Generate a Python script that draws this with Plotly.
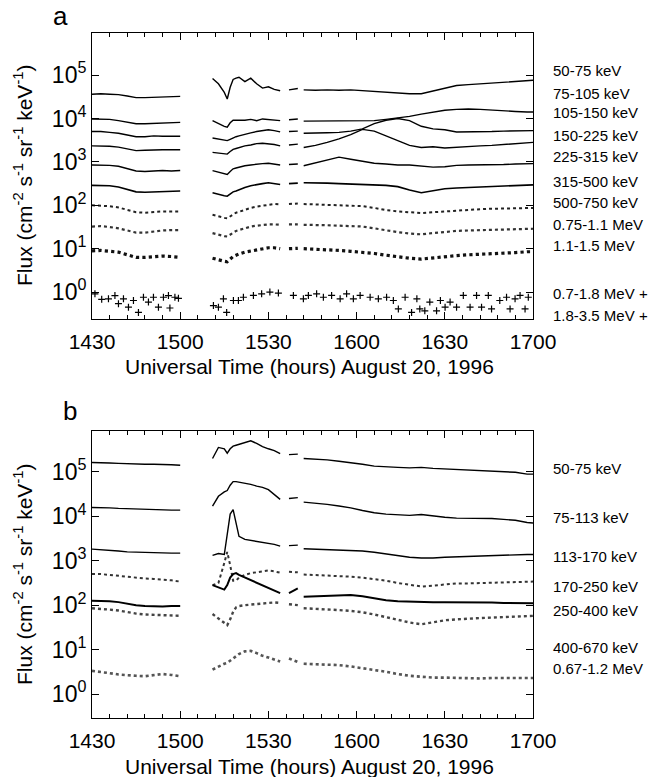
import plotly.graph_objects as go

# ---------------- data (time = minutes after 14:30 UT, None = data gap) ----------------
TIME = [0, 3, 6, 9, 12, 15, 18, 21, 24, 27, 30, None,
        41, 43, 45, 46, 47, 48, 49, 50, 52, 54, 56, 58, 60, 62, 64, None,
        67, 70, None,
        72, 76, 80, 84, 88, 92, 96, 100, 104, 108, 112, 116, 120, 124, 128, 132, 136, 140, 144, 148, 150]

TICK_VALS = [0, 30, 60, 90, 120, 150]
TICK_TEXT = ["1430", "1500", "1530", "1600", "1630", "1700"]

# Panel a (flux, cm^-2 s^-1 sr^-1 keV^-1)
A_50_75 = [36300, 37200, 36300, 35500, 33100, 30200, 30200, 30900, 31600, 32400, 32400, None,
           83200, 63100, 39800, 28200, 52500, 79400, 85100, 89100, 70800, 85100, 63100, 50100, 53700, 46800, 43700, None,
           45700, 49000, None,
           45700, 44700, 45700, 44700, 45700, 43700, 42700, 40700, 38900, 37200, 37200, 42700, 50100, 57500, 60300, 63100, 66100, 69200, 72400, 74100, 75900]
A_75_105 = [9770, 9770, 9550, 8910, 8130, 7590, 7590, 7760, 7940, 7940, 8130, None,
            8910, 7590, 6610, 6310, 7940, 9120, 9120, 9330, 9120, 9550, 8910, 9770, 9550, 9120, 8910, None,
            9330, 9770, None,
            8710, 8710, 8710, 8910, 8710, 8710, 8910, 9550, 10200, 11200, 12600, 14100, 15500, 16200, 16600, 16200, 15500, 14800, 14500, 14100, 14100]
A_105_150 = [5010, 5010, 4790, 4570, 4170, 3800, 3800, 3980, 3890, 3890, 3890, None,
             3550, 3390, 3160, 3090, 3310, 3630, 3800, 3980, 4370, 4680, 5010, 5250, 5500, 5250, 4900, None,
             5010, 5130, None,
             4570, 4570, 4680, 4790, 5130, 5750, 7590, 9120, 10000, 8910, 6610, 5750, 5500, 4900, 4900, 5010, 5010, 5130, 5130, 5250, 5250]
A_150_225 = [2340, 2340, 2290, 2190, 2000, 1820, 1860, 1910, 1910, 1910, 1910, None,
             1660, 1620, 1550, 1510, 1740, 1950, 2040, 2140, 2340, 2450, 2630, 2690, 2630, 2510, 2340, None,
             2450, 2570, None,
             2140, 2400, 2820, 3390, 4270, 5620, 5130, 3980, 3020, 2400, 2140, 2240, 2090, 2190, 2240, 2340, 2400, 2510, 2630, 2750, 2820]
A_225_315 = [851, 851, 832, 794, 692, 617, 603, 617, 631, 617, 631, None,
             631, 589, 537, 513, 603, 692, 724, 759, 813, 851, 891, 912, 933, 891, 851, None,
             871, 891, None,
             813, 955, 1120, 1290, 1150, 1020, 933, 891, 851, 851, 813, 759, 776, 832, 851, 851, 871, 871, 891, 891, 912]
A_315_500 = [288, 288, 282, 263, 234, 204, 200, 204, 209, 209, 214, None,
             195, 178, 166, 162, 182, 204, 214, 229, 257, 282, 302, 316, 331, 316, 302, None,
             316, 324, None,
             331, 331, 324, 316, 309, 302, 295, 288, 269, 224, 195, 219, 240, 251, 257, 269, 275, 282, 288, 295, 295]
A_500_750 = [100, 97.7, 95.5, 89.1, 79.4, 69.2, 67.6, 70.8, 72.4, 72.4, 72.4, None,
             60.3, 55.0, 51.3, 50.1, 56.2, 63.1, 67.6, 70.8, 79.4, 87.1, 93.3, 97.7, 105, 107, 105, None,
             107, 110, None,
             107, 105, 105, 102, 97.7, 95.5, 87.1, 77.6, 72.4, 69.2, 66.1, 69.2, 72.4, 75.9, 79.4, 81.3, 83.2, 85.1, 85.1, 87.1, 87.1]
A_075_11 = [32.4, 33.1, 31.6, 29.5, 26.3, 23.4, 23.4, 25.1, 26.3, 26.9, 26.9, None,
            22.9, 20.9, 19.5, 19.1, 21.4, 24.0, 25.7, 26.9, 29.5, 32.4, 33.9, 35.5, 36.3, 36.3, 35.5, None,
            36.3, 36.3, None,
            35.5, 35.5, 34.7, 33.9, 33.1, 32.4, 29.5, 26.3, 24.0, 22.4, 21.4, 22.9, 24.5, 25.7, 26.3, 26.9, 27.5, 28.2, 28.2, 28.8, 28.8]
A_11_15 = [8.91, 9.12, 8.71, 8.32, 7.24, 6.31, 6.31, 6.61, 6.76, 6.61, 6.31, None,
           6.03, 5.50, 5.13, 5.01, 5.75, 6.61, 7.08, 7.59, 8.32, 8.91, 9.55, 10.0, 10.5, 10.5, 10.0, None,
           10.0, 10.2, None,
           10.0, 9.77, 9.55, 9.12, 8.71, 8.32, 7.76, 7.08, 6.46, 6.03, 5.75, 6.17, 6.61, 6.92, 7.24, 7.41, 7.59, 7.94, 8.13, 8.51, 8.51]

# Panel a "+" channels (sparse points)
P07_18_T = [1.0, 3.3, 5.6, 7.8, 10.7, 14.1, 17.5, 19.2, 20.9, 24.3, 26.0, 28.2, 29.4,
            44.7, 48.1, 49.8, 51.5, 54.9, 57.7, 60.5, 63.4, 68.5,
            71.9, 73.6, 76.4, 78.7, 81.5, 84.4, 86.6, 88.9, 91.2, 94.6, 97.4, 100.2, 102.5,
            106.5, 110.5, 114.9, 118.5, 121.8, 126.3, 130.8, 134.8, 138.7, 141.0, 143.9, 145.6, 148.4]
P07_18_V = [0.91, 0.68, 0.70, 0.83, 0.70, 0.64, 0.76, 0.59, 0.76, 0.76, 0.83, 0.76, 0.72,
            0.70, 0.64, 0.64, 0.76, 0.84, 0.91, 1.00, 0.95, 0.84,
            0.70, 0.84, 0.91, 0.76, 0.84, 0.70, 0.91, 0.70, 0.84, 0.76, 0.70, 0.76, 0.64,
            0.76, 0.70, 0.59, 0.64, 0.59, 0.84, 0.84, 0.84, 0.64, 0.76, 0.70, 0.84, 0.76]
P18_35_T = [9.0, 12.4, 15.8, 22.6, 26.5, 41.3, 43.0, 45.8, 104.2, 108.7, 111.5, 113.2,
            117.2, 120.1, 124.0, 128.6, 132.5, 135.9, 142.2, 147.3]
P18_35_V = [0.54, 0.45, 0.34, 0.45, 0.43, 0.49, 0.45, 0.34, 0.41, 0.34, 0.41, 0.37,
            0.37, 0.45, 0.45, 0.45, 0.45, 0.41, 0.41, 0.41]

# Panel b
B_50_75 = [162000, 162000, 158000, 155000, 151000, 148000, 148000, 148000, 148000, 145000, 141000, None,
           200000, 355000, 331000, 263000, 331000, 380000, 398000, 417000, 457000, 501000, 437000, 372000, 331000, 302000, 257000, None,
           245000, 251000, None,
           200000, 195000, 186000, 174000, 162000, 148000, 135000, 129000, 126000, 123000, 126000, 120000, 117000, 112000, 110000, 107000, 105000, 102000, 97700, 89100, 89100]
B_75_113 = [15800, 15800, 15500, 15100, 14800, 14500, 14500, 14100, 14100, 13800, 13800, None,
            17000, 28200, 35500, 38000, 50100, 60300, 60300, 58900, 56200, 52500, 47900, 44700, 39800, 31600, 24000, None,
            25100, 26300, None,
            20900, 20000, 18600, 17000, 15500, 13500, 12000, 11200, 10700, 10500, 11000, 10200, 9550, 9120, 9120, 8910, 8910, 8510, 8130, 7240, 7080]
B_113_170 = [1820, 1780, 1740, 1660, 1580, 1550, 1550, 1510, 1510, 1480, 1480, None,
             1320, 1450, 1380, 3550, 11200, 14100, 7080, 3550, 3020, 2880, 2750, 2630, 2510, 2340, 2140, None,
             2190, 2240, None,
             1860, 1820, 1780, 1740, 1700, 1660, 1550, 1410, 1290, 1200, 1150, 1150, 1200, 1230, 1260, 1290, 1320, 1350, 1350, 1380, 1380]
B_170_250 = [501, 501, 479, 457, 427, 407, 398, 389, 380, 363, 339, None,
             282, 316, 891, 1580, 794, 355, 355, 417, 479, 525, 550, 575, 603, 575, 537, None,
             562, 550, None,
             490, 479, 468, 457, 437, 417, 389, 355, 316, 288, 263, 275, 295, 309, 309, 316, 316, 324, 331, 339, 339]
B_250_400 = [126, 126, 123, 117, 107, 100, 95.5, 93.3, 93.3, 95.5, 95.5, None,
             282, 251, 224, 282, 417, 501, 525, 479, 417, 363, 316, 275, 240, 209, 186, None,
             186, 240, None,
             155, 158, 162, 166, 170, 158, 141, 129, 123, 120, 120, 117, 117, 117, 115, 115, 115, 112, 112, 110, 110]
B_400_670 = [85.1, 83.2, 79.4, 75.9, 69.2, 64.6, 61.7, 60.3, 58.9, 58.9, 57.5, None,
             63.1, 50.1, 38.0, 35.5, 47.9, 70.8, 89.1, 95.5, 100, 102, 105, 107, 112, 115, 112, None,
             105, 100, None,
             85.1, 83.2, 81.3, 77.6, 74.1, 69.2, 61.7, 53.7, 46.8, 40.7, 37.2, 41.7, 45.7, 47.9, 50.1, 51.3, 52.5, 53.7, 55.0, 56.2, 57.5]
B_067_12 = [3.31, 3.16, 2.95, 2.75, 2.63, 2.57, 2.51, 2.63, 2.82, 2.69, 2.51, None,
            3.55, 4.17, 4.79, 5.01, 5.62, 6.31, 7.08, 7.94, 9.12, 9.33, 8.32, 7.24, 6.61, 6.03, 5.37, None,
            6.31, 5.25, None,
            4.79, 4.68, 4.57, 4.47, 4.17, 3.80, 3.55, 3.16, 2.82, 2.57, 2.45, 2.34, 2.34, 2.29, 2.29, 2.24, 2.29, 2.29, 2.24, 2.24, 2.29]

LABELS_A = ["50-75 keV", "75-105 keV", "105-150 keV", "150-225 keV", "225-315 keV", "315-500 keV",
            "500-750 keV", "0.75-1.1 MeV", "1.1-1.5 MeV", "0.7-1.8 MeV +", "1.8-3.5 MeV +"]
LABELS_B = ["50-75 keV", "75-113 keV", "113-170 keV", "170-250 keV", "250-400 keV",
            "400-670 keV", "0.67-1.2 MeV"]
X_TITLE = "Universal Time (hours) August 20, 1996"
Y_TITLE = "Flux (cm<sup>-2</sup> s<sup>-1</sup> sr<sup>-1</sup> keV<sup>-1</sup>)"

# ---------------- figure ----------------
FONT = "Liberation Sans, Arial, Helvetica, sans-serif"
W, H = 648, 777
ML, MR, MT, MB = 92, 115, 33, 59
PW = W - ML - MR
PH = H - MT - MB


def py(ypx):
    return (H - MB - ypx) / PH


def px(xpx):
    return (xpx - ML) / PW


fig = go.Figure()

solid = dict(color="black", width=1.4)

series_a = [(A_50_75, solid), (A_75_105, solid), (A_105_150, solid), (A_150_225, solid),
            (A_225_315, solid), (A_315_500, dict(color="black", width=1.6)),
            (A_500_750, dict(color="#222222", width=2.0, dash="dot")),
            (A_075_11, dict(color="#333333", width=2.2, dash="dot")),
            (A_11_15, dict(color="#111111", width=3.2, dash="dot"))]
for vals, ln in series_a:
    fig.add_trace(go.Scatter(x=TIME, y=vals, mode="lines", line=ln, connectgaps=False,
                             xaxis="x", yaxis="y", hoverinfo="skip"))

plus = dict(symbol="cross-thin", size=5, line=dict(color="black", width=1.2), color="black")
fig.add_trace(go.Scatter(x=P07_18_T, y=P07_18_V, mode="markers", marker=plus, xaxis="x", yaxis="y",
                         hoverinfo="skip"))
fig.add_trace(go.Scatter(x=P18_35_T, y=P18_35_V, mode="markers", marker=plus, xaxis="x", yaxis="y",
                         hoverinfo="skip"))

series_b = [(B_50_75, solid), (B_75_113, solid), (B_113_170, dict(color="black", width=1.4)),
            (B_170_250, dict(color="#333333", width=2.0, dash="dot")),
            (B_250_400, dict(color="black", width=2.0)),
            (B_400_670, dict(color="#444444", width=2.4, dash="dot")),
            (B_067_12, dict(color="#555555", width=2.6, dash="dot"))]
for vals, ln in series_b:
    fig.add_trace(go.Scatter(x=TIME, y=vals, mode="lines", line=ln, connectgaps=False,
                             xaxis="x2", yaxis="y2", hoverinfo="skip"))

ytv = [1, 10, 100, 1e3, 1e4, 1e5]
ytt = ["10<sup>%d</sup>" % i for i in range(6)]

xax = dict(range=[0, 150], tickmode="array", tickvals=TICK_VALS, ticktext=TICK_TEXT,
           ticks="inside", ticklen=7, tickwidth=1, tickcolor="black",
           showline=True, linecolor="black", linewidth=1, mirror="ticks",
           showgrid=False, zeroline=False, automargin=False, ticklabelstandoff=4,
           minor=dict(tickmode="linear", tick0=0, dtick=6, ticks="inside", ticklen=4,
                      tickcolor="black", showgrid=False),
           tickfont=dict(size=21, family=FONT, color="black"))
yax = dict(type="log", tickmode="array", tickvals=ytv, ticktext=ytt,
           ticks="inside", ticklen=7, tickwidth=1, tickcolor="black",
           showline=True, linecolor="black", linewidth=1, mirror="ticks",
           showgrid=False, zeroline=False, automargin=False,
           tickfont=dict(size=23, family=FONT, color="black"))

fig.update_layout(
    width=W, height=H, margin=dict(l=ML, r=MR, t=MT, b=MB, autoexpand=False),
    paper_bgcolor="white", plot_bgcolor="white", showlegend=False,
    font=dict(family=FONT, color="black"),
    xaxis=dict(xax, domain=[0, 1], anchor="y"),
    yaxis=dict(yax, domain=[py(319), 1.0], anchor="x", range=[-0.62, 5.97]),
    xaxis2=dict(xax, domain=[0, 1], anchor="y2"),
    yaxis2=dict(yax, domain=[0, py(431)], anchor="x2", range=[-0.54, 5.92]),
)

ann = []
ya_px = [70, 93, 113, 136, 157, 181, 202, 225, 245, 293, 315]
for lab, ypx in zip(LABELS_A, ya_px):
    ann.append(dict(text=lab, xref="paper", yref="paper", x=px(551), y=py(ypx),
                    xanchor="left", yanchor="middle", showarrow=False,
                    font=dict(size=15, family=FONT, color="black")))
yb_px = [468, 517, 556, 586, 610, 647, 668]
for lab, ypx in zip(LABELS_B, yb_px):
    ann.append(dict(text=lab, xref="paper", yref="paper", x=px(551), y=py(ypx),
                    xanchor="left", yanchor="middle", showarrow=False,
                    font=dict(size=15, family=FONT, color="black")))
for letter, lx, ly in [("a", 60, 16), ("b", 70, 411)]:
    ann.append(dict(text=letter, xref="paper", yref="paper", x=px(lx), y=py(ly),
                    xanchor="center", yanchor="middle", showarrow=False,
                    font=dict(size=26, family=FONT, color="black")))
for ty in [366, 766]:
    ann.append(dict(text=X_TITLE, xref="paper", yref="paper", x=px(309), y=py(ty),
                    xanchor="center", yanchor="middle", showarrow=False,
                    font=dict(size=21, family=FONT, color="black")))
for ty in [176, 575]:
    ann.append(dict(text=Y_TITLE, xref="paper", yref="paper", x=px(23), y=py(ty),
                    xanchor="center", yanchor="middle", showarrow=False, textangle=-90,
                    font=dict(size=21, family=FONT, color="black")))
fig.update_layout(annotations=ann)

fig.write_html("out.html", config={"displayModeBar": False},
               post_script="document.body.style.margin='0';document.body.style.padding='0';")
